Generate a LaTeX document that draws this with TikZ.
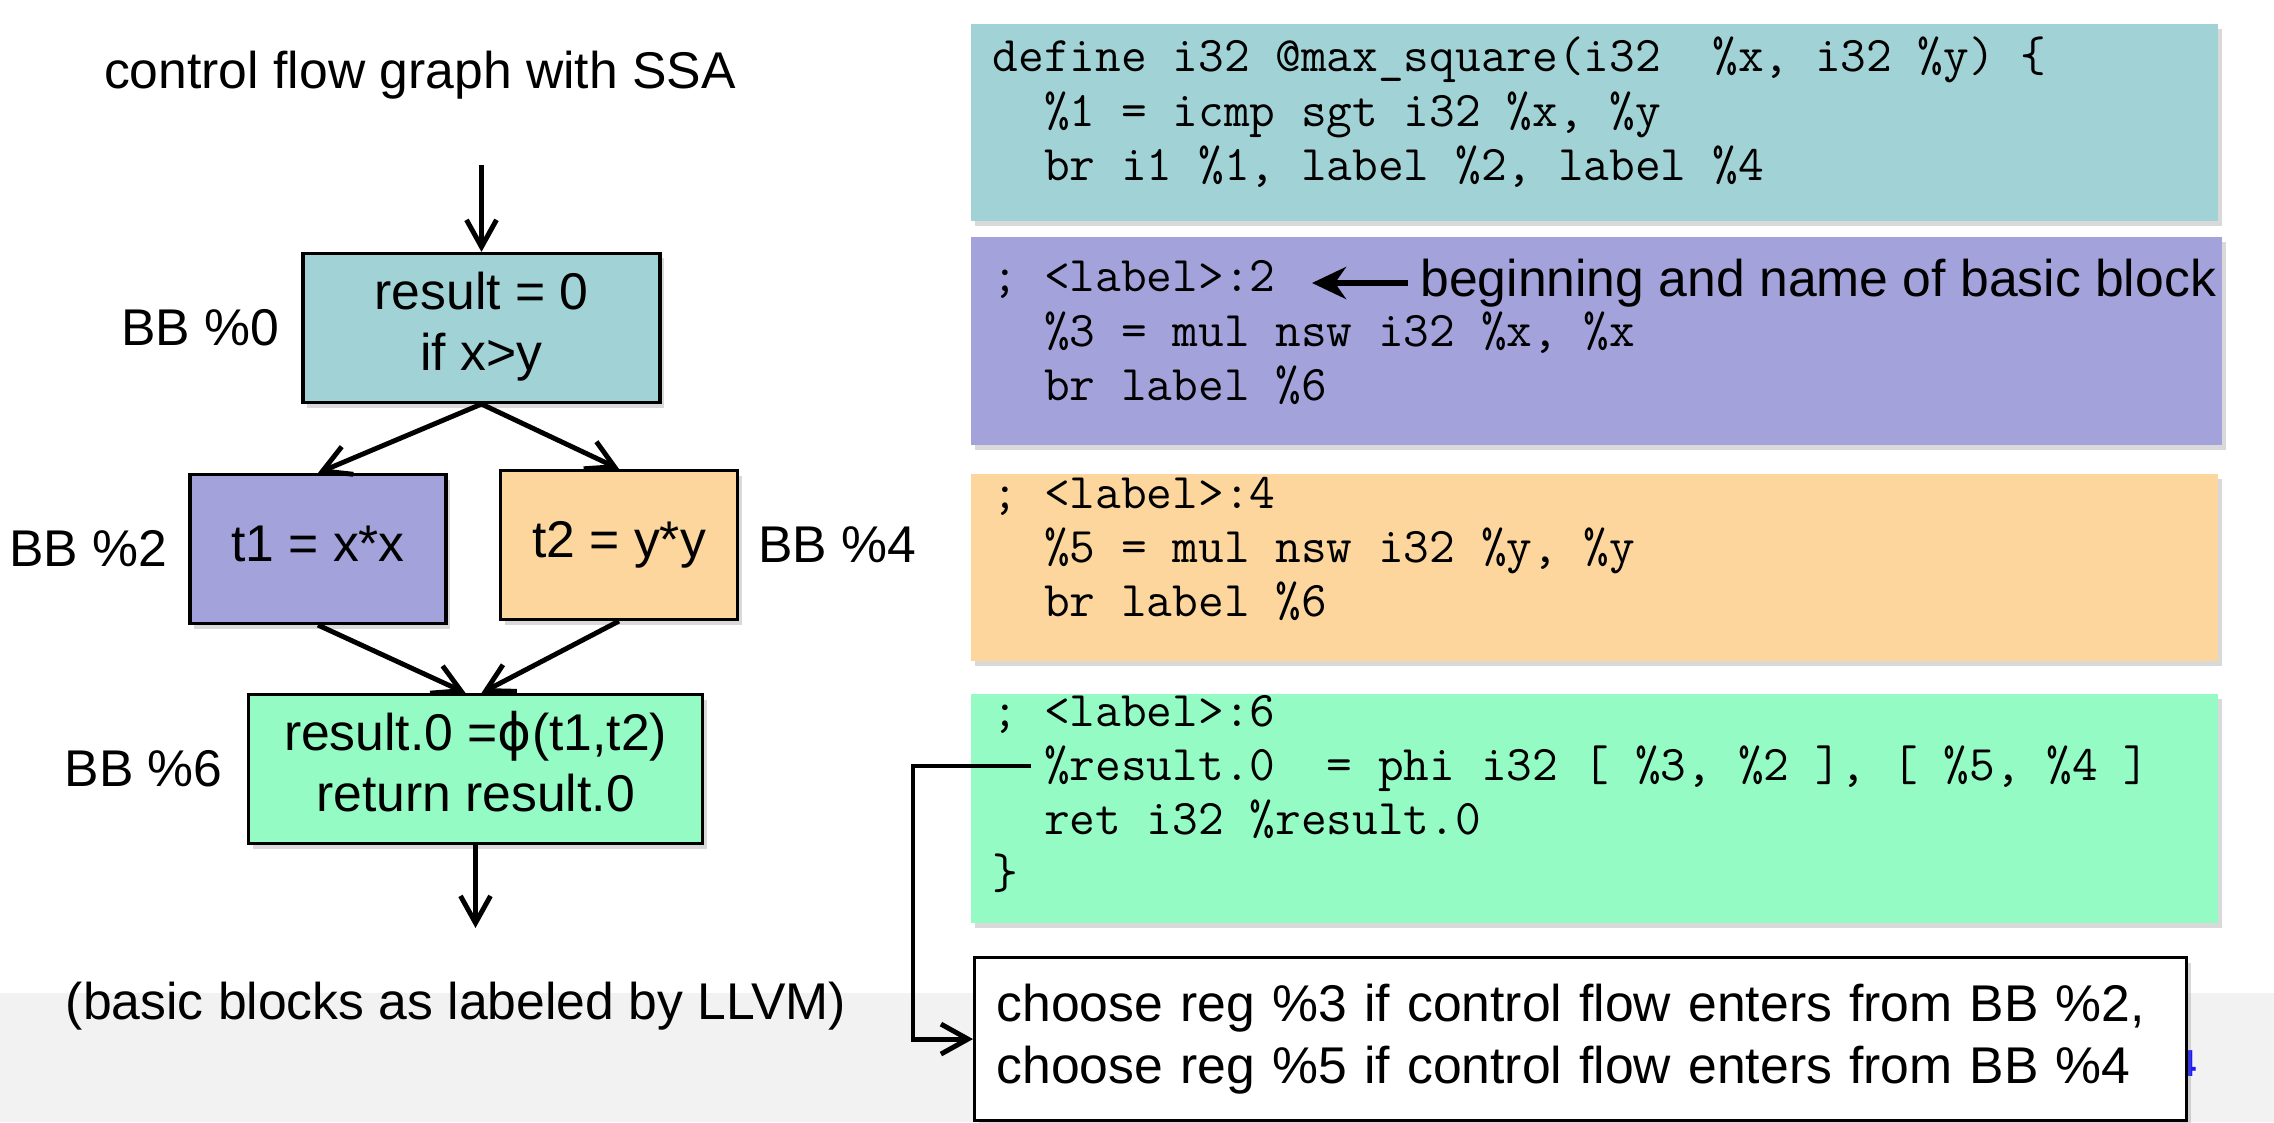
\documentclass[tikz,border=0pt]{standalone}
\usepackage{fontspec}
\setmainfont{Liberation Sans}
\newfontfamily\phifont{DejaVu Sans}
\usepackage{tikz}
\usetikzlibrary{shapes,shadows,arrows.meta,positioning}
\definecolor{bbteal}{RGB}{161,211,214}
\definecolor{bbpurple}{RGB}{163,162,219}
\definecolor{bborange}{RGB}{252,214,156}
\definecolor{bbgreen}{RGB}{147,251,195}
\definecolor{bandgray}{RGB}{242,242,242}
\definecolor{pageblue}{RGB}{25,25,255}
\tikzset{
	softshadow/.style={drop shadow={shadow xshift=0.04cm,shadow yshift=-0.05cm,opacity=0.3}},
	cfgblock/.style={draw, line width=0.9pt, inner sep=0pt, softshadow},
	irblock/.style={inner sep=0pt, anchor=north west, softshadow},
	ircode/.style={anchor=base west, inner sep=0pt, font=\fontsize{14.2}{15.4}\selectfont\ttfamily},
	flow/.style={->, line width=1.4pt},
}
\newcommand{\cfgnode}[5]{
	\node [cfgblock, fill=#3, minimum width=#4, minimum height=1.49cm] (#1) at (#2) {\raisebox{-1.8pt}{\begin{tabular}{c}#5\end{tabular}}};}
\newcommand{\irnode}[5]{
	\node [irblock, fill=#3, minimum width=#4, minimum height=#5] (#1) at (#2) {};}

\begin{document}
\begin{tikzpicture}[>={Straight Barb[length=2.7mm,width=3mm]}, font=\fontsize{14.7}{17.4}\selectfont]
	\useasboundingbox (0,0) rectangle (22.74,11.22);
	\fill [bandgray] (0,0) rectangle (22.74,1.29);

	\node [anchor=base] (title) at (4.20,10.33) {control flow graph with SSA};
	\coordinate (entry) at (4.815,9.57);
	\cfgnode{bb0}{4.815,7.94}{bbteal}{3.57cm}{result = 0\\ if x>y}
	\cfgnode{bb2}{3.18,5.73}{bbpurple}{2.56cm}{t1 = x*x}
	\cfgnode{bb4}{6.19,5.77}{bborange}{2.37cm}{t2 = y*y}
	\cfgnode{bb6}{4.755,3.53}{bbgreen}{4.54cm}{result.0 ={\phifont ϕ}(t1,t2)\\ return result.0}
	\coordinate (exit) at (4.755,1.94);
	\node [left=0.1cm of bb0] (lbl0) {BB \%0};
	\node [left=0.09cm of bb2] (lbl2) {BB \%2};
	\node [right=0.07cm of bb4] (lbl4) {BB \%4};
	\node [left=0.12cm of bb6] (lbl6) {BB \%6};
	\node [anchor=base] (footer) at (4.56,1.03) {(basic blocks as labeled by LLVM)};
	\draw [flow] (entry) -- (bb0.north);
	\draw [flow] (bb0.south) -- (bb2.north);
	\draw [flow] (bb0.south) -- (bb4.north);
	\draw [flow] (bb2.south) -- ([xshift=-0.1cm]bb6.north);
	\draw [flow] (bb4.south) -- ([xshift=0.06cm]bb6.north);
	\draw [flow] (bb6.south) -- (exit);

	\irnode{ir0}{9.70,10.99}{bbteal}{12.47cm}{1.97cm}
	\irnode{ir2}{9.70,8.86}{bbpurple}{12.51cm}{2.08cm}
	\irnode{ir4}{9.70,6.485}{bborange}{12.47cm}{1.865cm}
	\irnode{ir6}{9.70,4.29}{bbgreen}{12.47cm}{2.29cm}
	\node [ircode] (ir0code) at (9.92,10.50) {\begin{tabular}[t]{@{}l@{}}
		define~i32~@max\_square(i32~~\%x,~i32~\%y)~\{\\
		~~\%1~=~icmp~sgt~i32~\%x,~\%y\\
		~~br~i1~\%1,~label~\%2,~label~\%4
	\end{tabular}};
	\node [ircode] (ir2code) at (9.92,8.30) {\begin{tabular}[t]{@{}l@{}}
		;~<label>:2\\
		~~\%3~=~mul~nsw~i32~\%x,~\%x\\
		~~br~label~\%6
	\end{tabular}};
	\node [ircode] (ir4code) at (9.92,6.14) {\begin{tabular}[t]{@{}l@{}}
		;~<label>:4\\
		~~\%5~=~mul~nsw~i32~\%y,~\%y\\
		~~br~label~\%6
	\end{tabular}};
	\node [ircode] (ir6code) at (9.92,3.96) {\begin{tabular}[t]{@{}l@{}}
		;~<label>:6\\
		~~\%result.0~~=~phi~i32~[~\%3,~\%2~],~[~\%5,~\%4~]\\
		~~ret~i32~\%result.0\\
		\}
	\end{tabular}};

	\node [anchor=west] (bbnote) at (14.08,8.39) {beginning and name of basic block};
	\coordinate (lbl2end) at (13.12,8.39);
	\draw [line width=1.7pt, -{Stealth[length=3.4mm,width=3.2mm]}] (bbnote.west) -- (lbl2end);

	\node [anchor=base east, inner sep=0pt, text=pageblue, font=\fontsize{10.7}{12}\selectfont\bfseries] (pagenum) at (21.97,0.46) {4};
	\node [draw, line width=0.9pt, fill=white, softshadow, anchor=north west, inner xsep=0.22cm, text width=11.68cm, minimum height=1.63cm, align=left] (note) at (9.73,1.66) {choose reg \%3 if control flow enters from BB \%2,\\ choose reg \%5 if control flow enters from BB \%4};
	\coordinate (phiref) at (10.31,3.56);
	\draw [flow] (phiref) -- ++(-1.18,0) |- (note.west);
\end{tikzpicture}
\end{document}
